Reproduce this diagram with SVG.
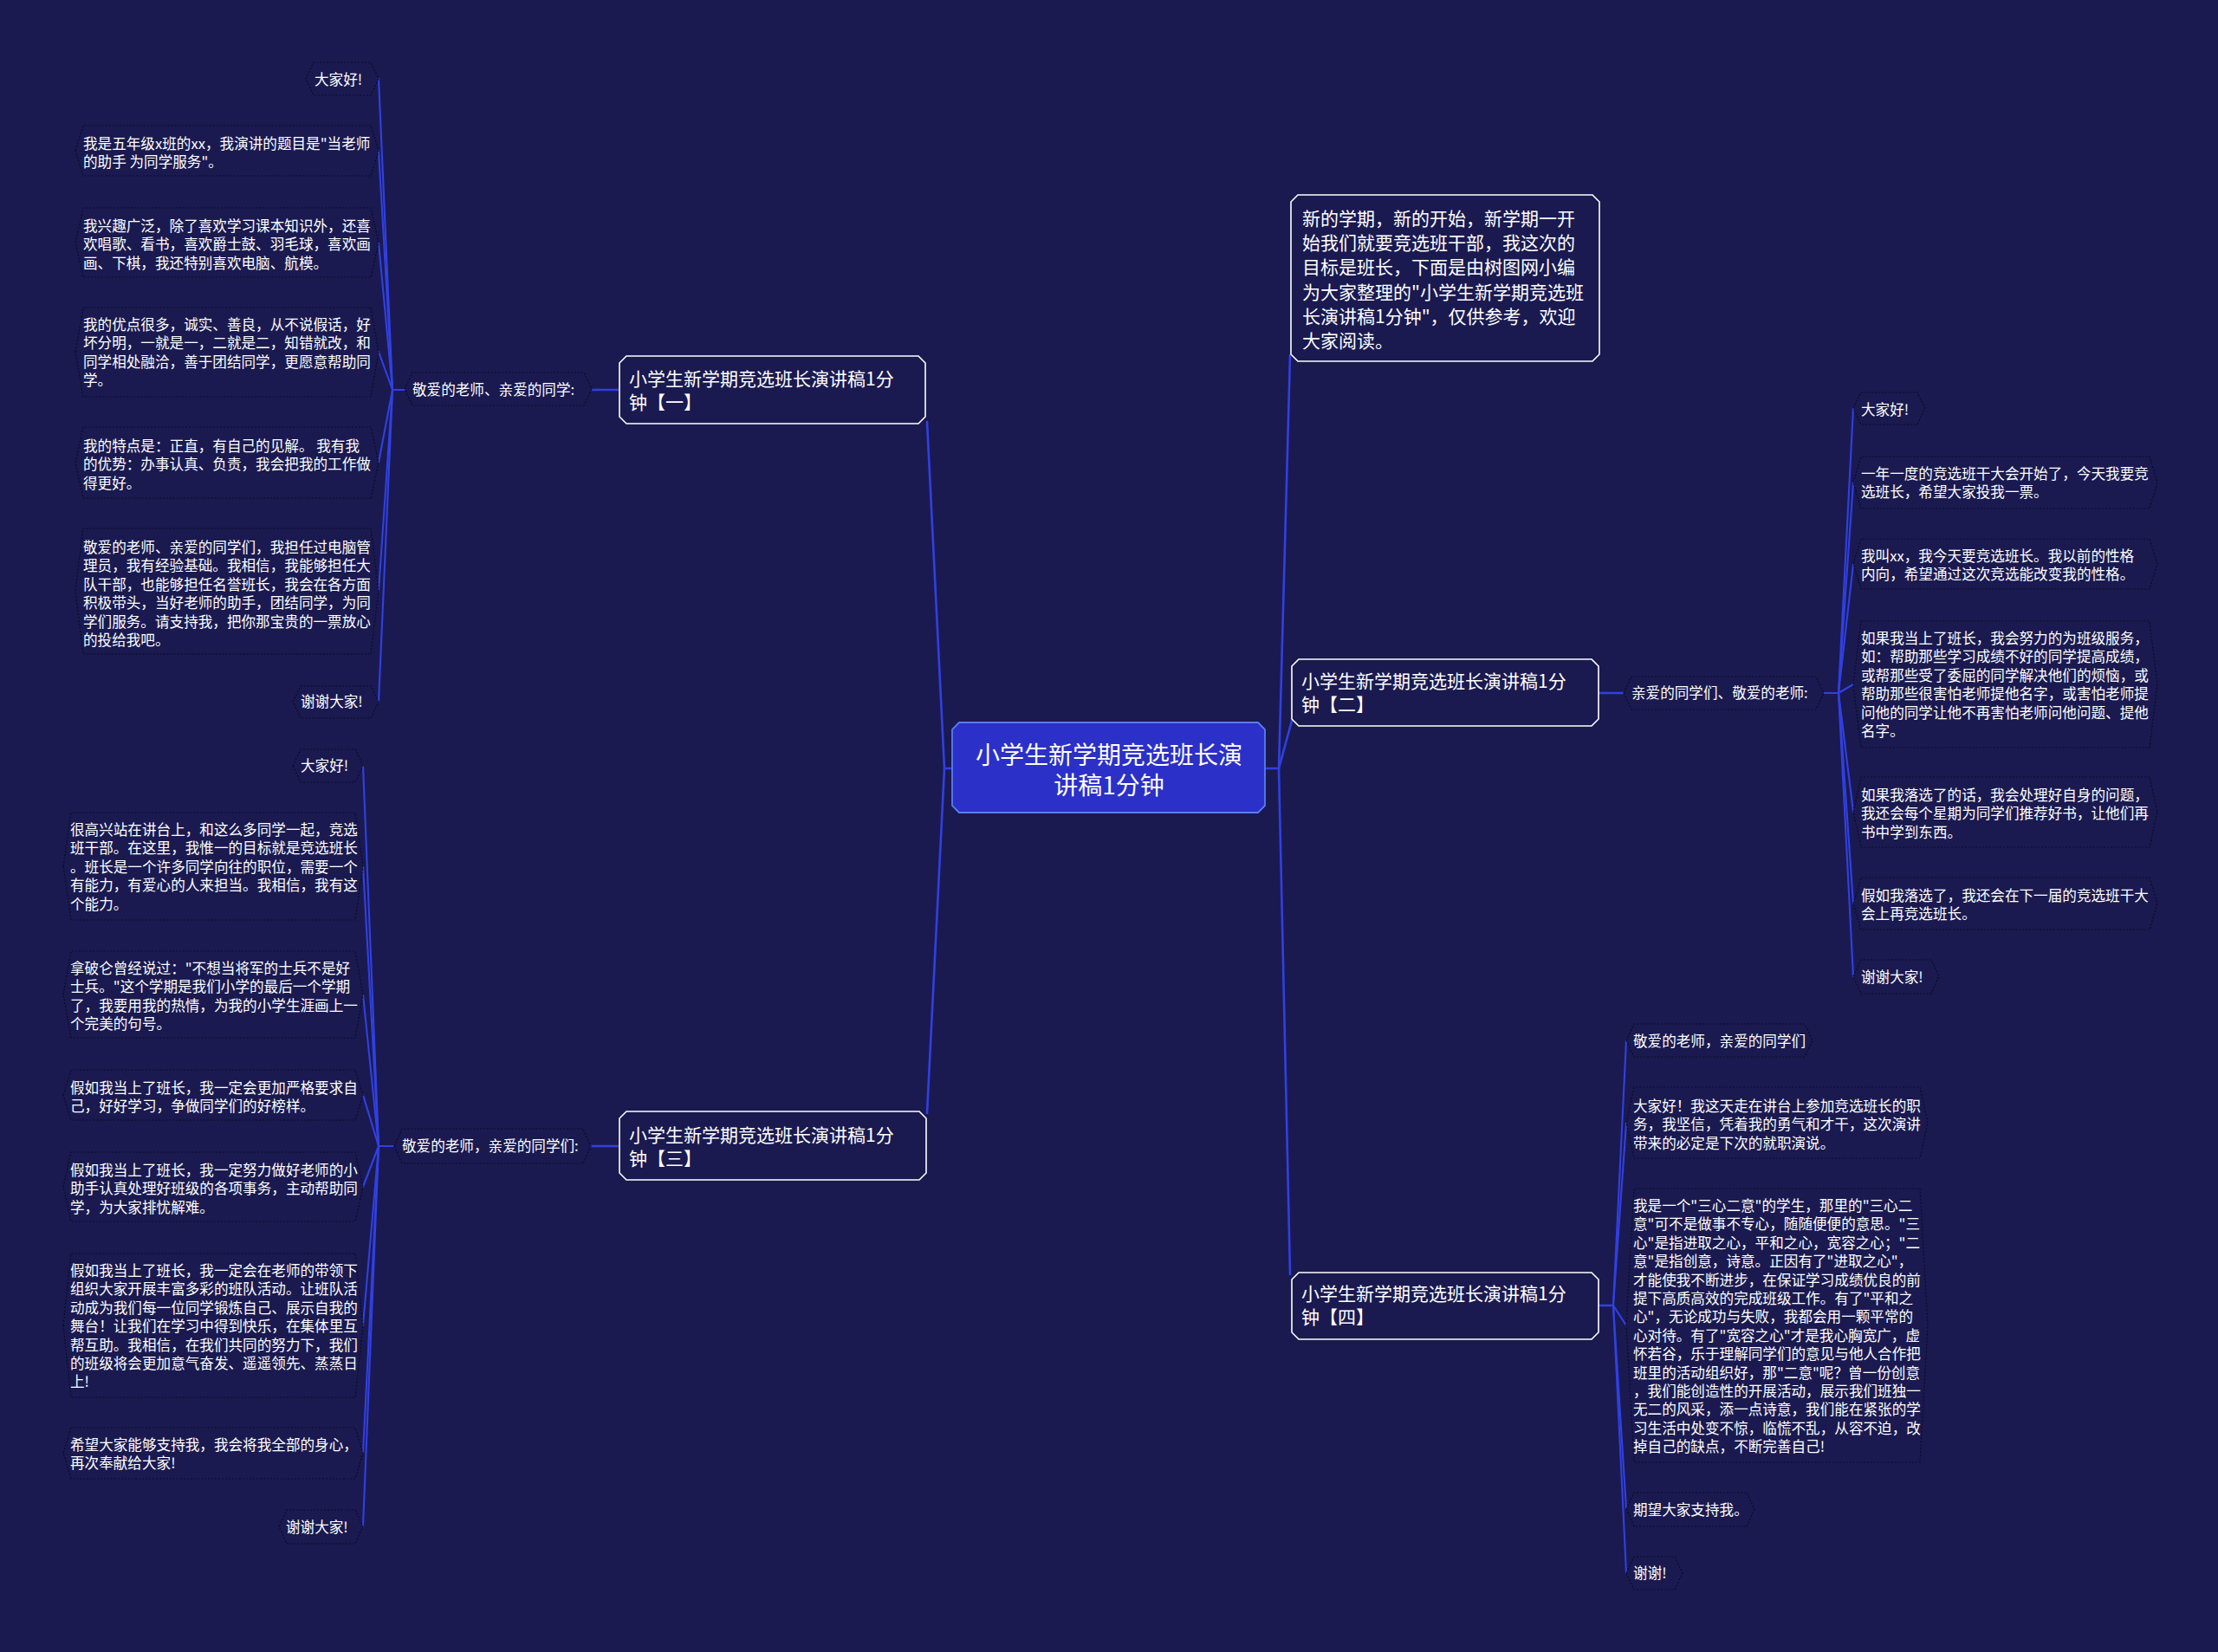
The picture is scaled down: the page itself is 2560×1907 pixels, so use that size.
<svg xmlns="http://www.w3.org/2000/svg" width="2560" height="1907" viewBox="0 0 2560 1907">
<style>
text{font-family:'Noto Sans CJK SC','Noto Sans',sans-serif;fill:#ffffff}
.lf{font-size:16.6px}
.br{font-size:21px}
.ct{font-size:28px}
.leaf{fill:#1a1a50;stroke:#0b0b28;stroke-width:1.2;stroke-dasharray:2 2}
.box{fill:#1a1a50;stroke:#ffffff;stroke-width:1.6}
.ctr{fill:#2b30c8;stroke:#5a7cf2;stroke-width:1.8}
.c1{fill:none;stroke:#3140e0;stroke-width:2.6;stroke-linecap:round}
.c2{fill:none;stroke:#3140e0;stroke-width:2.1;stroke-linecap:round}
</style>
<rect x="0" y="0" width="2560" height="1907" fill="#1a1a50"/>

<g id="connectors">
<path class="c1" d="M1099 887 H1090 L1070 487"/>
<path class="c1" d="M1090 887 L1070 1285"/>
<path class="c1" d="M1460 887 H1476 L1489 410"/>
<path class="c1" d="M1476 887 L1491 832"/>
<path class="c1" d="M1476 887 L1489 1471"/>
<path class="c1" d="M683 450 H715"/>
<path class="c1" d="M682 1323 H715"/>
<path class="c1" d="M1845 800 H1874"/>
<path class="c1" d="M1845 1507 H1862"/>
<path class="c2" d="M467 450 H453 L437 91"/>
<path class="c2" d="M453 450 L437 174"/>
<path class="c2" d="M453 450 L437 280"/>
<path class="c2" d="M453 450 L437 406"/>
<path class="c2" d="M453 450 L437 534"/>
<path class="c2" d="M453 450 L437 682"/>
<path class="c2" d="M453 450 L437 810"/>
<path class="c2" d="M455 1323 H437 L419 884"/>
<path class="c2" d="M437 1323 L419 1000"/>
<path class="c2" d="M437 1323 L419 1148"/>
<path class="c2" d="M437 1323 L419 1264"/>
<path class="c2" d="M437 1323 L419 1370"/>
<path class="c2" d="M437 1323 L419 1530"/>
<path class="c2" d="M437 1323 L419 1677"/>
<path class="c2" d="M437 1323 L419 1762"/>
<path class="c2" d="M2105 800 H2122 L2139 471"/>
<path class="c2" d="M2122 800 L2139 557"/>
<path class="c2" d="M2122 800 L2139 651"/>
<path class="c2" d="M2122 800 L2139 790"/>
<path class="c2" d="M2122 800 L2139 937"/>
<path class="c2" d="M2122 800 L2139 1043"/>
<path class="c2" d="M2122 800 L2139 1127"/>
<path class="c2" d="M1862 1507 L1877 1201"/>
<path class="c2" d="M1862 1507 L1877 1296"/>
<path class="c2" d="M1862 1507 L1877 1530"/>
<path class="c2" d="M1862 1507 L1877 1742"/>
<path class="c2" d="M1862 1507 L1877 1816"/>
</g>

<g id="center">
<path class="ctr" d="M1107 834 H1452 L1460 842 V930 L1452 938 H1107 L1099 930 V842 Z"/>
<text class="ct" x="1280" y="882" text-anchor="middle">小学生新学期竞选班长演</text>
<text class="ct" x="1280" y="917" text-anchor="middle">讲稿1分钟</text>
</g>

<g id="intro">
<path class="box" d="M1498 225 H1838 L1846 233 V409 L1838 417 H1498 L1490 409 V233 Z"/>
<text class="br" x="1503" y="260">新的学期，新的开始，新学期一开<tspan x="1503" dy="28.2">始我们就要竞选班干部，我这次的</tspan><tspan x="1503" dy="28.2">目标是班长，下面是由树图网小编</tspan><tspan x="1503" dy="28.2">为大家整理的"小学生新学期竞选班</tspan><tspan x="1503" dy="28.2">长演讲稿1分钟"，仅供参考，欢迎</tspan><tspan x="1503" dy="28.2">大家阅读。</tspan></text>
</g>

<g id="branch1">
<path class="box" d="M723 411 H1060 L1068 419 V481 L1060 489 H723 L715 481 V419 Z"/>
<text class="br" x="726" y="445">小学生新学期竞选班长演讲稿1分<tspan x="726" dy="27">钟【一】</tspan></text>
</g>
<g id="branch3">
<path class="box" d="M723 1283 H1061 L1069 1291 V1354 L1061 1362 H723 L715 1354 V1291 Z"/>
<text class="br" x="726" y="1318">小学生新学期竞选班长演讲稿1分<tspan x="726" dy="27">钟【三】</tspan></text>
</g>
<g id="branch2">
<path class="box" d="M1499 761 H1837 L1845 769 V830 L1837 838 H1499 L1491 830 V769 Z"/>
<text class="br" x="1502" y="794">小学生新学期竞选班长演讲稿1分<tspan x="1502" dy="27">钟【二】</tspan></text>
</g>
<g id="branch4">
<path class="box" d="M1499 1469 H1837 L1845 1477 V1538 L1837 1546 H1499 L1491 1538 V1477 Z"/>
<text class="br" x="1502" y="1501">小学生新学期竞选班长演讲稿1分<tspan x="1502" dy="27">钟【四】</tspan></text>
</g>

<g id="mid-lt">
<path class="leaf" d="M467 449 L476 430 H674 L683 449 L674 468 H476 Z"/>
<text class="lf" x="476" y="456">敬爱的老师、亲爱的同学:</text>
</g>
<g id="mid-lb">
<path class="leaf" d="M455 1323 L464 1303 H673 L682 1323 L673 1343 H464 Z"/>
<text class="lf" x="464" y="1329">敬爱的老师，亲爱的同学们:</text>
</g>
<g id="mid-r2">
<path class="leaf" d="M1874 800 L1883 781 H2096 L2105 800 L2096 819 H1883 Z"/>
<text class="lf" x="1883" y="806">亲爱的同学们、敬爱的老师:</text>
</g>

<g id="lt1"><path class="leaf" d="M353 91 L362 72 H428 L437 91 L428 110 H362 Z"/><text class="lf" x="363" y="98">大家好!</text></g>
<g id="lt2"><path class="leaf" d="M87 174 L96 145 H428 L437 174 L428 203 H96 Z"/><text class="lf" x="96" y="172">我是五年级x班的xx，我演讲的题目是"当老师<tspan x="96" dy="21.4">的助手 为同学服务"。</tspan></text></g>
<g id="lt3"><path class="leaf" d="M87 280 L96 240 H428 L437 280 L428 320 H96 Z"/><text class="lf" x="96" y="267">我兴趣广泛，除了喜欢学习课本知识外，还喜<tspan x="96" dy="21.4">欢唱歌、看书，喜欢爵士鼓、羽毛球，喜欢画</tspan><tspan x="96" dy="21.4">画、下棋，我还特别喜欢电脑、航模。</tspan></text></g>
<g id="lt4"><path class="leaf" d="M87 406 L96 355 H428 L437 406 L428 458 H96 Z"/><text class="lf" x="96" y="381">我的优点很多，诚实、善良，从不说假话，好<tspan x="96" dy="21.4">坏分明，一就是一，二就是二，知错就改，和</tspan><tspan x="96" dy="21.4">同学相处融洽，善于团结同学，更愿意帮助同</tspan><tspan x="96" dy="21.4">学。</tspan></text></g>
<g id="lt5"><path class="leaf" d="M87 534 L96 493 H428 L437 534 L428 575 H96 Z"/><text class="lf" x="96" y="521">我的特点是：正直，有自己的见解。 我有我<tspan x="96" dy="21.4">的优势：办事认真、负责，我会把我的工作做</tspan><tspan x="96" dy="21.4">得更好。</tspan></text></g>
<g id="lt6"><path class="leaf" d="M87 682 L96 610 H428 L437 682 L428 755 H96 Z"/><text class="lf" x="96" y="638">敬爱的老师、亲爱的同学们，我担任过电脑管<tspan x="96" dy="21.4">理员，我有经验基础。我相信，我能够担任大</tspan><tspan x="96" dy="21.4">队干部，也能够担任名誉班长，我会在各方面</tspan><tspan x="96" dy="21.4">积极带头，当好老师的助手，团结同学，为同</tspan><tspan x="96" dy="21.4">学们服务。请支持我，把你那宝贵的一票放心</tspan><tspan x="96" dy="21.4">的投给我吧。</tspan></text></g>
<g id="lt7"><path class="leaf" d="M338 810 L347 792 H428 L437 810 L428 829 H347 Z"/><text class="lf" x="347" y="816">谢谢大家!</text></g>

<g id="lb1"><path class="leaf" d="M338 884 L347 865 H410 L419 884 L410 903 H347 Z"/><text class="lf" x="347" y="890">大家好!</text></g>
<g id="lb2"><path class="leaf" d="M73 1000 L82 938 H410 L419 1000 L410 1062 H82 Z"/><text class="lf" x="81" y="964">很高兴站在讲台上，和这么多同学一起，竞选<tspan x="81" dy="21.4">班干部。在这里，我惟一的目标就是竞选班长</tspan><tspan x="81" dy="21.4">。班长是一个许多同学向往的职位，需要一个</tspan><tspan x="81" dy="21.4">有能力，有爱心的人来担当。我相信，我有这</tspan><tspan x="81" dy="21.4">个能力。</tspan></text></g>
<g id="lb3"><path class="leaf" d="M73 1148 L82 1098 H410 L419 1148 L410 1198 H82 Z"/><text class="lf" x="81" y="1124">拿破仑曾经说过："不想当将军的士兵不是好<tspan x="81" dy="21.4">士兵。"这个学期是我们小学的最后一个学期</tspan><tspan x="81" dy="21.4">了，我要用我的热情，为我的小学生涯画上一</tspan><tspan x="81" dy="21.4">个完美的句号。</tspan></text></g>
<g id="lb4"><path class="leaf" d="M73 1264 L82 1235 H410 L419 1264 L410 1293 H82 Z"/><text class="lf" x="81" y="1262">假如我当上了班长，我一定会更加严格要求自<tspan x="81" dy="21.4">己，好好学习，争做同学们的好榜样。</tspan></text></g>
<g id="lb5"><path class="leaf" d="M73 1370 L82 1330 H410 L419 1370 L410 1410 H82 Z"/><text class="lf" x="81" y="1357">假如我当上了班长，我一定努力做好老师的小<tspan x="81" dy="21.4">助手认真处理好班级的各项事务，主动帮助同</tspan><tspan x="81" dy="21.4">学，为大家排忧解难。</tspan></text></g>
<g id="lb6"><path class="leaf" d="M73 1530 L82 1447 H410 L419 1530 L410 1613 H82 Z"/><text class="lf" x="81" y="1473">假如我当上了班长，我一定会在老师的带领下<tspan x="81" dy="21.4">组织大家开展丰富多彩的班队活动。让班队活</tspan><tspan x="81" dy="21.4">动成为我们每一位同学锻炼自己、展示自我的</tspan><tspan x="81" dy="21.4">舞台！让我们在学习中得到快乐，在集体里互</tspan><tspan x="81" dy="21.4">帮互助。我相信，在我们共同的努力下，我们</tspan><tspan x="81" dy="21.4">的班级将会更加意气奋发、遥遥领先、蒸蒸日</tspan><tspan x="81" dy="21.4">上!</tspan></text></g>
<g id="lb7"><path class="leaf" d="M73 1677 L82 1648 H410 L419 1677 L410 1707 H82 Z"/><text class="lf" x="81" y="1674">希望大家能够支持我，我会将我全部的身心，<tspan x="81" dy="21.4">再次奉献给大家!</tspan></text></g>
<g id="lb8"><path class="leaf" d="M322 1762 L331 1743 H410 L419 1762 L410 1782 H331 Z"/><text class="lf" x="330" y="1769">谢谢大家!</text></g>

<g id="r2-1"><path class="leaf" d="M2139 471 L2148 453 H2213 L2222 471 L2213 490 H2148 Z"/><text class="lf" x="2148" y="479">大家好!</text></g>
<g id="r2-2"><path class="leaf" d="M2139 557 L2148 527 H2481 L2490 557 L2481 587 H2148 Z"/><text class="lf" x="2148" y="553">一年一度的竞选班干大会开始了，今天我要竞<tspan x="2148" dy="21.4">选班长，希望大家投我一票。</tspan></text></g>
<g id="r2-3"><path class="leaf" d="M2139 651 L2148 622 H2481 L2490 651 L2481 680 H2148 Z"/><text class="lf" x="2148" y="648">我叫xx，我今天要竞选班长。我以前的性格<tspan x="2148" dy="21.4">内向，希望通过这次竞选能改变我的性格。</tspan></text></g>
<g id="r2-4"><path class="leaf" d="M2139 790 L2148 717 H2481 L2490 790 L2481 863 H2148 Z"/><text class="lf" x="2148" y="743">如果我当上了班长，我会努力的为班级服务，<tspan x="2148" dy="21.4">如：帮助那些学习成绩不好的同学提高成绩，</tspan><tspan x="2148" dy="21.4">或帮那些受了委屈的同学解决他们的烦恼，或</tspan><tspan x="2148" dy="21.4">帮助那些很害怕老师提他名字，或害怕老师提</tspan><tspan x="2148" dy="21.4">问他的同学让他不再害怕老师问他问题、提他</tspan><tspan x="2148" dy="21.4">名字。</tspan></text></g>
<g id="r2-5"><path class="leaf" d="M2139 937 L2148 897 H2481 L2490 937 L2481 978 H2148 Z"/><text class="lf" x="2148" y="924">如果我落选了的话，我会处理好自身的问题，<tspan x="2148" dy="21.4">我还会每个星期为同学们推荐好书，让他们再</tspan><tspan x="2148" dy="21.4">书中学到东西。</tspan></text></g>
<g id="r2-6"><path class="leaf" d="M2139 1043 L2148 1013 H2481 L2490 1043 L2481 1073 H2148 Z"/><text class="lf" x="2148" y="1040">假如我落选了，我还会在下一届的竞选班干大<tspan x="2148" dy="21.4">会上再竞选班长。</tspan></text></g>
<g id="r2-7"><path class="leaf" d="M2139 1127 L2148 1108 H2229 L2238 1127 L2229 1147 H2148 Z"/><text class="lf" x="2148" y="1134">谢谢大家!</text></g>

<g id="r4-1"><path class="leaf" d="M1877 1201 L1886 1182 H2083 L2092 1201 L2083 1220 H1886 Z"/><text class="lf" x="1885" y="1208">敬爱的老师，亲爱的同学们</text></g>
<g id="r4-2"><path class="leaf" d="M1877 1296 L1886 1255 H2216 L2225 1296 L2216 1337 H1886 Z"/><text class="lf" x="1885" y="1283">大家好！我这天走在讲台上参加竞选班长的职<tspan x="1885" dy="21.4">务，我坚信，凭着我的勇气和才干，这次演讲</tspan><tspan x="1885" dy="21.4">带来的必定是下次的就职演说。</tspan></text></g>
<g id="r4-3"><path class="leaf" d="M1877 1530 L1886 1372 H2216 L2225 1530 L2216 1688 H1886 Z"/><text class="lf" x="1885" y="1398">我是一个"三心二意"的学生，那里的"三心二<tspan x="1885" dy="21.4">意"可不是做事不专心，随随便便的意思。"三</tspan><tspan x="1885" dy="21.4">心"是指进取之心，平和之心，宽容之心；"二</tspan><tspan x="1885" dy="21.4">意"是指创意，诗意。正因有了"进取之心"，</tspan><tspan x="1885" dy="21.4">才能使我不断进步，在保证学习成绩优良的前</tspan><tspan x="1885" dy="21.4">提下高质高效的完成班级工作。有了"平和之</tspan><tspan x="1885" dy="21.4">心"，无论成功与失败，我都会用一颗平常的</tspan><tspan x="1885" dy="21.4">心对待。有了"宽容之心"才是我心胸宽广，虚</tspan><tspan x="1885" dy="21.4">怀若谷，乐于理解同学们的意见与他人合作把</tspan><tspan x="1885" dy="21.4">班里的活动组织好，那"二意"呢？曾一份创意</tspan><tspan x="1885" dy="21.4">，我们能创造性的开展活动，展示我们班独一</tspan><tspan x="1885" dy="21.4">无二的风采，添一点诗意，我们能在紧张的学</tspan><tspan x="1885" dy="21.4">习生活中处变不惊，临慌不乱，从容不迫，改</tspan><tspan x="1885" dy="21.4">掉自己的缺点，不断完善自己!</tspan></text></g>
<g id="r4-4"><path class="leaf" d="M1877 1742 L1886 1723 H2016 L2025 1742 L2016 1762 H1886 Z"/><text class="lf" x="1885" y="1749">期望大家支持我。</text></g>
<g id="r4-5"><path class="leaf" d="M1877 1816 L1886 1797 H1933 L1942 1816 L1933 1835 H1886 Z"/><text class="lf" x="1885" y="1822">谢谢!</text></g>
</svg>
